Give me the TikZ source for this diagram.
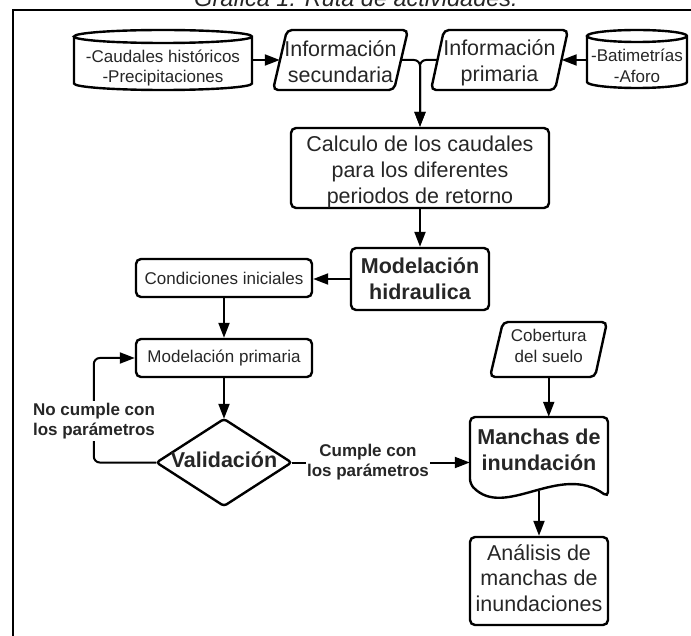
\documentclass[tikz,border=0pt]{standalone}
\usepackage{fontspec}
\setmainfont{Liberation Sans}
\usetikzlibrary{arrows.meta}
\begin{document}
\begin{tikzpicture}[x=1pt,y=1pt,
  outl/.style={draw=black, line width=2.4pt, rounded corners=5pt},
  plain/.style={draw=black, line width=2.4pt},
  box/.style={outl, rectangle, inner sep=0pt},
  ghost/.style={rectangle, draw=none, inner sep=0pt},
  txt/.style={align=center, text=black!85, inner sep=0pt},
  big/.style={font=\fontsize{21.5}{25.8}\selectfont},
  bigb/.style={font=\fontsize{21.5}{25.8}\selectfont\bfseries},
  sml/.style={font=\fontsize{17}{20.5}\selectfont},
  arr/.style={draw=black, line width=2pt, -{Triangle[length=15pt,width=11pt]}},
  lbl/.style={fill=white, inner sep=1.5pt, align=center, text=black!85, font=\fontsize{17}{20.5}\selectfont\bfseries}
]
\useasboundingbox (0,0) rectangle (691,-636);
% frame and title
\draw[line width=2pt] (13,-645) -- (13,-10) -- (700,-10);
\node[anchor=base, inner sep=0pt, text=black!85, font=\fontsize{23.5}{28}\selectfont\itshape] (titulo) at (356,-7) {Gráfica 1. Ruta de actividades.};

% cylinders
\draw[plain] (74,-36.5) -- (74,-83.5) arc[start angle=180,end angle=360,x radius=89,y radius=6.5] -- (252,-36.5) arc[start angle=0,end angle=360,x radius=89,y radius=6.5];
\node[ghost, minimum width=178pt, minimum height=60pt, label={[txt,sml,yshift=-8pt]center:{-Caudales históricos\\-Precipitaciones}}] (cylL) at (163,-60) {};

\draw[plain] (587,-36) -- (587,-82) arc[start angle=180,end angle=360,x radius=50,y radius=6] -- (687,-36) arc[start angle=0,end angle=360,x radius=50,y radius=6];
\node[ghost, minimum width=100pt, minimum height=58pt, label={[txt,sml,yshift=-7pt]center:{-Batimetrías\\-Aforo}}] (cylR) at (637,-59) {};

% parallelograms top
\draw[outl] (287,-30) -- (408,-30) -- (394,-90) -- (273,-90) -- cycle;
\node[ghost, minimum width=121pt, minimum height=60pt, label={[txt,big,yshift=-2pt]center:{Información\\secundaria}}] (sec) at (340.5,-60) {};

\draw[outl] (444,-30) -- (568,-30) -- (555,-90) -- (431,-90) -- cycle;
\node[ghost, minimum width=124pt, minimum height=60pt, label={[txt,big,yshift=-3pt]center:{Información\\primaria}}] (pri) at (499.5,-60) {};

% boxes
\node[box, minimum width=258pt, minimum height=80pt, label={[txt,big,yshift=-4pt]center:{Calculo de los caudales\\para los diferentes\\periodos de retorno}}] (calc) at (420,-168) {};
\node[box, minimum width=138pt, minimum height=62pt, label={[txt,bigb]center:{Modelación\\hidraulica}}] (modh) at (420,-279) {};
\node[box, minimum width=176pt, minimum height=38pt, label={[txt,sml]center:{Condiciones iniciales}}] (cond) at (224,-278) {};
\node[box, minimum width=176pt, minimum height=38pt, label={[txt,sml]center:{Modelación primaria}}] (modp) at (224,-358) {};

% diamond
\draw[outl, rounded corners=3pt] (224,-419) -- (291.5,-462.5) -- (224,-506) -- (156.5,-462.5) -- cycle;
\node[ghost, minimum width=135pt, minimum height=87pt, label={[txt,bigb,yshift=2.5pt]center:{Validación}}] (val) at (224,-462.5) {};

% cobertura
\draw[outl] (503,-322) -- (607,-322) -- (595,-377) -- (490,-377) -- cycle;
\node[ghost, minimum width=104.5pt, minimum height=55pt, label={[txt,sml,yshift=3.5pt]center:{Cobertura\\del suelo}}] (cob) at (548.75,-349.5) {};

% manchas (document)
\draw[outl] (608,-497) .. controls (560,-462) and (505,-520) .. (470,-484) -- (470,-417) -- (608,-417) -- cycle;
\node[ghost, minimum width=138pt, minimum height=74pt, label={[txt,bigb,yshift=4.5pt]center:{Manchas de\\inundación}}] (manchas) at (539,-454) {};

% analisis
\node[box, minimum width=138pt, minimum height=88pt, label={[txt,big,yshift=3pt]center:{Análisis de\\manchas de\\inundaciones}}] (analisis) at (539,-581) {};

% connectors
\draw[arr] (cylL.east |- sec.west) -- (sec.west);
\draw[arr] (cylR.west |- pri.east) -- (pri.east);
\draw[arr, rounded corners=6pt] (sec.east) -| (calc.north);
\draw[arr, rounded corners=6pt] (pri.west) -| (calc.north);
\draw[arr] (calc.south) -- (modh.north);
\draw[arr] (modh.west) -- (modh.west -| cond.east);
\draw[arr] (cond.south) -- (modp.north);
\draw[arr] (modp.south) -- (val.north);
\draw[arr, rounded corners=6pt] (val.west) -- ++(-62.5,0) |- (modp.west);
\node[lbl] (nocumple) at (94,-421) {No cumple con\\los parámetros};
\draw[arr] (val.east) -- (val.east -| manchas.west);
\node[lbl] (cumple) at (368,-462) {Cumple con\\los parámetros};
\draw[arr] (cob.south) -- (cob.south |- manchas.north);
\draw[arr] (manchas.south) -- (analisis.north);
\end{tikzpicture}
\end{document}
